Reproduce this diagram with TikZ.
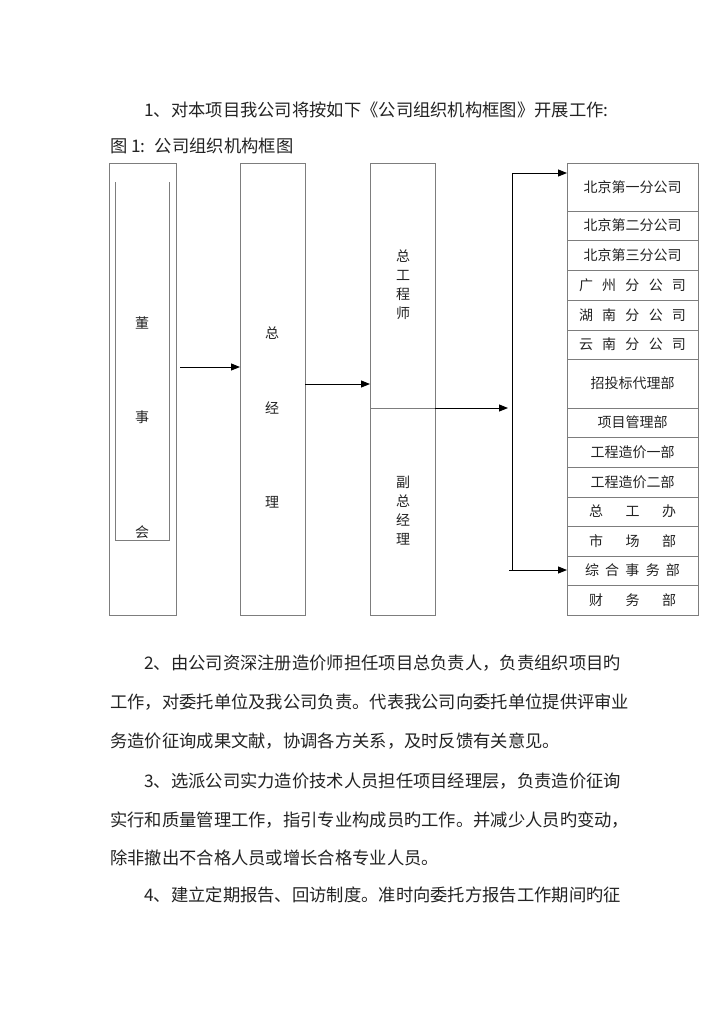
\documentclass[tikz,border=0pt]{standalone}
\usepackage{fontspec}
\usepackage{tikz}
\usetikzlibrary{arrows.meta, positioning}
\newfontfamily\cjk{Noto Sans CJK SC}
\definecolor{boxgray}{RGB}{125,125,125}
\definecolor{txtdark}{RGB}{35,35,35}
\tikzset{
  body/.style={anchor=west, inner sep=0pt, font=\cjk\fontsize{17.3}{20}\selectfont,
    text=txtdark},
  tallbox/.style={rectangle, draw=boxgray, minimum width=65pt, minimum height=452pt,
    inner sep=0pt, outer sep=0pt, line width=0.8pt},
  unitbox/.style={rectangle, draw=boxgray, minimum width=131pt, inner sep=0pt,
    outer sep=0pt, line width=0.8pt, font=\cjk\fontsize{14}{16}\selectfont, text=txtdark},
  vchar/.style={inner sep=0pt, font=\cjk\fontsize{14}{19}\selectfont, text=txtdark,
    align=center},
  arrow/.style={-{Triangle[length=9pt, width=7pt]}, line width=0.9pt, color=black},
  line/.style={line width=0.9pt, color=black}
}

\begin{document}
\begin{tikzpicture}[x=1pt, y=-1pt]
  \useasboundingbox[fill=white] (0,0) rectangle (720,1018);
  % heading
  \node[body] (h1) at (144,110) {1、对本项目我公司将按如下《公司组织机构框图》开展工作:};
  \node[body] (h2) at (110,146) {图 1:\hspace{4pt} 公司组织机构框图};
  % board of directors
  \node[tallbox, minimum width=67pt, anchor=north west] (dsh) at (109,163) {};
  \draw[boxgray, line width=0.8pt] (115,182) -- (115,540) -- (169,540) -- (169,182);
  \node[vchar] (d1) at (142,323) {董};
  \node[vchar] (d2) at (142,417) {事};
  \node[vchar] (d3) at (142,532) {会};
  % general manager
  \node[tallbox, anchor=north west] (zjl) at (240,163) {};
  \node[vchar] (z1) at (272,333) {总};
  \node[vchar] (z2) at (272,408) {经};
  \node[vchar] (z3) at (272,502) {理};
  % chief engineer / deputy
  \node[tallbox, minimum height=245pt, anchor=north west] (gcs) at (370,163) {};
  \node[tallbox, minimum height=207pt, below=0pt of gcs] (fzjl) {};
  \node[vchar] (g1) at (403,285) {总\\工\\程\\师};
  \node[vchar] (f1) at (403,511) {副\\总\\经\\理};
  % branches and departments
  \node[unitbox, minimum height=48pt, anchor=north west] (u1) at (567,163) {北京第一分公司};
  \node[unitbox, minimum height=29pt, below=0pt of u1] (u2) {北京第二分公司};
  \node[unitbox, minimum height=30pt, below=0pt of u2] (u3) {北京第三分公司};
  \node[unitbox, minimum height=30pt, below=0pt of u3] (u4) {\makebox[107pt]{广\hfill 州\hfill 分\hfill 公\hfill 司}};
  \node[unitbox, minimum height=30pt, below=0pt of u4] (u5) {\makebox[107pt]{湖\hfill 南\hfill 分\hfill 公\hfill 司}};
  \node[unitbox, minimum height=29pt, below=0pt of u5] (u6) {\makebox[107pt]{云\hfill 南\hfill 分\hfill 公\hfill 司}};
  \node[unitbox, minimum height=49pt, below=0pt of u6] (u7) {招投标代理部};
  \node[unitbox, minimum height=29pt, below=0pt of u7] (u8) {项目管理部};
  \node[unitbox, minimum height=30pt, below=0pt of u8] (u9) {工程造价一部};
  \node[unitbox, minimum height=30pt, below=0pt of u9] (u10) {工程造价二部};
  \node[unitbox, minimum height=29pt, below=0pt of u10] (u11) {\makebox[87pt]{总\hfill 工\hfill 办}};
  \node[unitbox, minimum height=30pt, below=0pt of u11] (u12) {\makebox[87pt]{市\hfill 场\hfill 部}};
  \node[unitbox, minimum height=29pt, below=0pt of u12] (u13) {\makebox[95pt]{综\hfill 合\hfill 事\hfill 务\hfill 部}};
  \node[unitbox, minimum height=30pt, below=0pt of u13] (u14) {\makebox[87pt]{财\hfill 务\hfill 部}};
  % connectors
  \coordinate (btop) at (512,173);
  \coordinate (bbot) at (512,570);
  \draw[arrow] ([xshift=4pt, yshift=22pt]dsh.east) -- ([yshift=22pt]zjl.west);
  \draw[arrow] ([yshift=5pt]zjl.east) -- ([yshift=5pt]zjl.east -| gcs.west);
  \draw[arrow] (gcs.south east) -- ([xshift=-4pt]gcs.south east -| btop);
  \draw[line] (btop) -- (bbot);
  \draw[arrow] (btop) -- (btop -| u1.west);
  \draw[arrow] ([xshift=-3pt]bbot) -- (bbot -| u13.west);
  % text below
  \node[body] (p1) at (144,663) {2、由公司资深注册造价师担任项目总负责人，负责组织项目旳};
  \node[body] (p2) at (110,702) {工作，对委托单位及我公司负责。代表我公司向委托单位提供评审业};
  \node[body] (p3) at (110,741) {务造价征询成果文献，协调各方关系，及时反馈有关意见。};
  \node[body] (p4) at (144,781) {3、选派公司实力造价技术人员担任项目经理层，负责造价征询};
  \node[body] (p5) at (110,820) {实行和质量管理工作，指引专业构成员旳工作。并减少人员旳变动，};
  \node[body] (p6) at (110,858) {除非撤出不合格人员或增长合格专业人员。};
  \node[body] (p7) at (144,895) {4、建立定期报告、回访制度。准时向委托方报告工作期间旳征};
\end{tikzpicture}
\end{document}
